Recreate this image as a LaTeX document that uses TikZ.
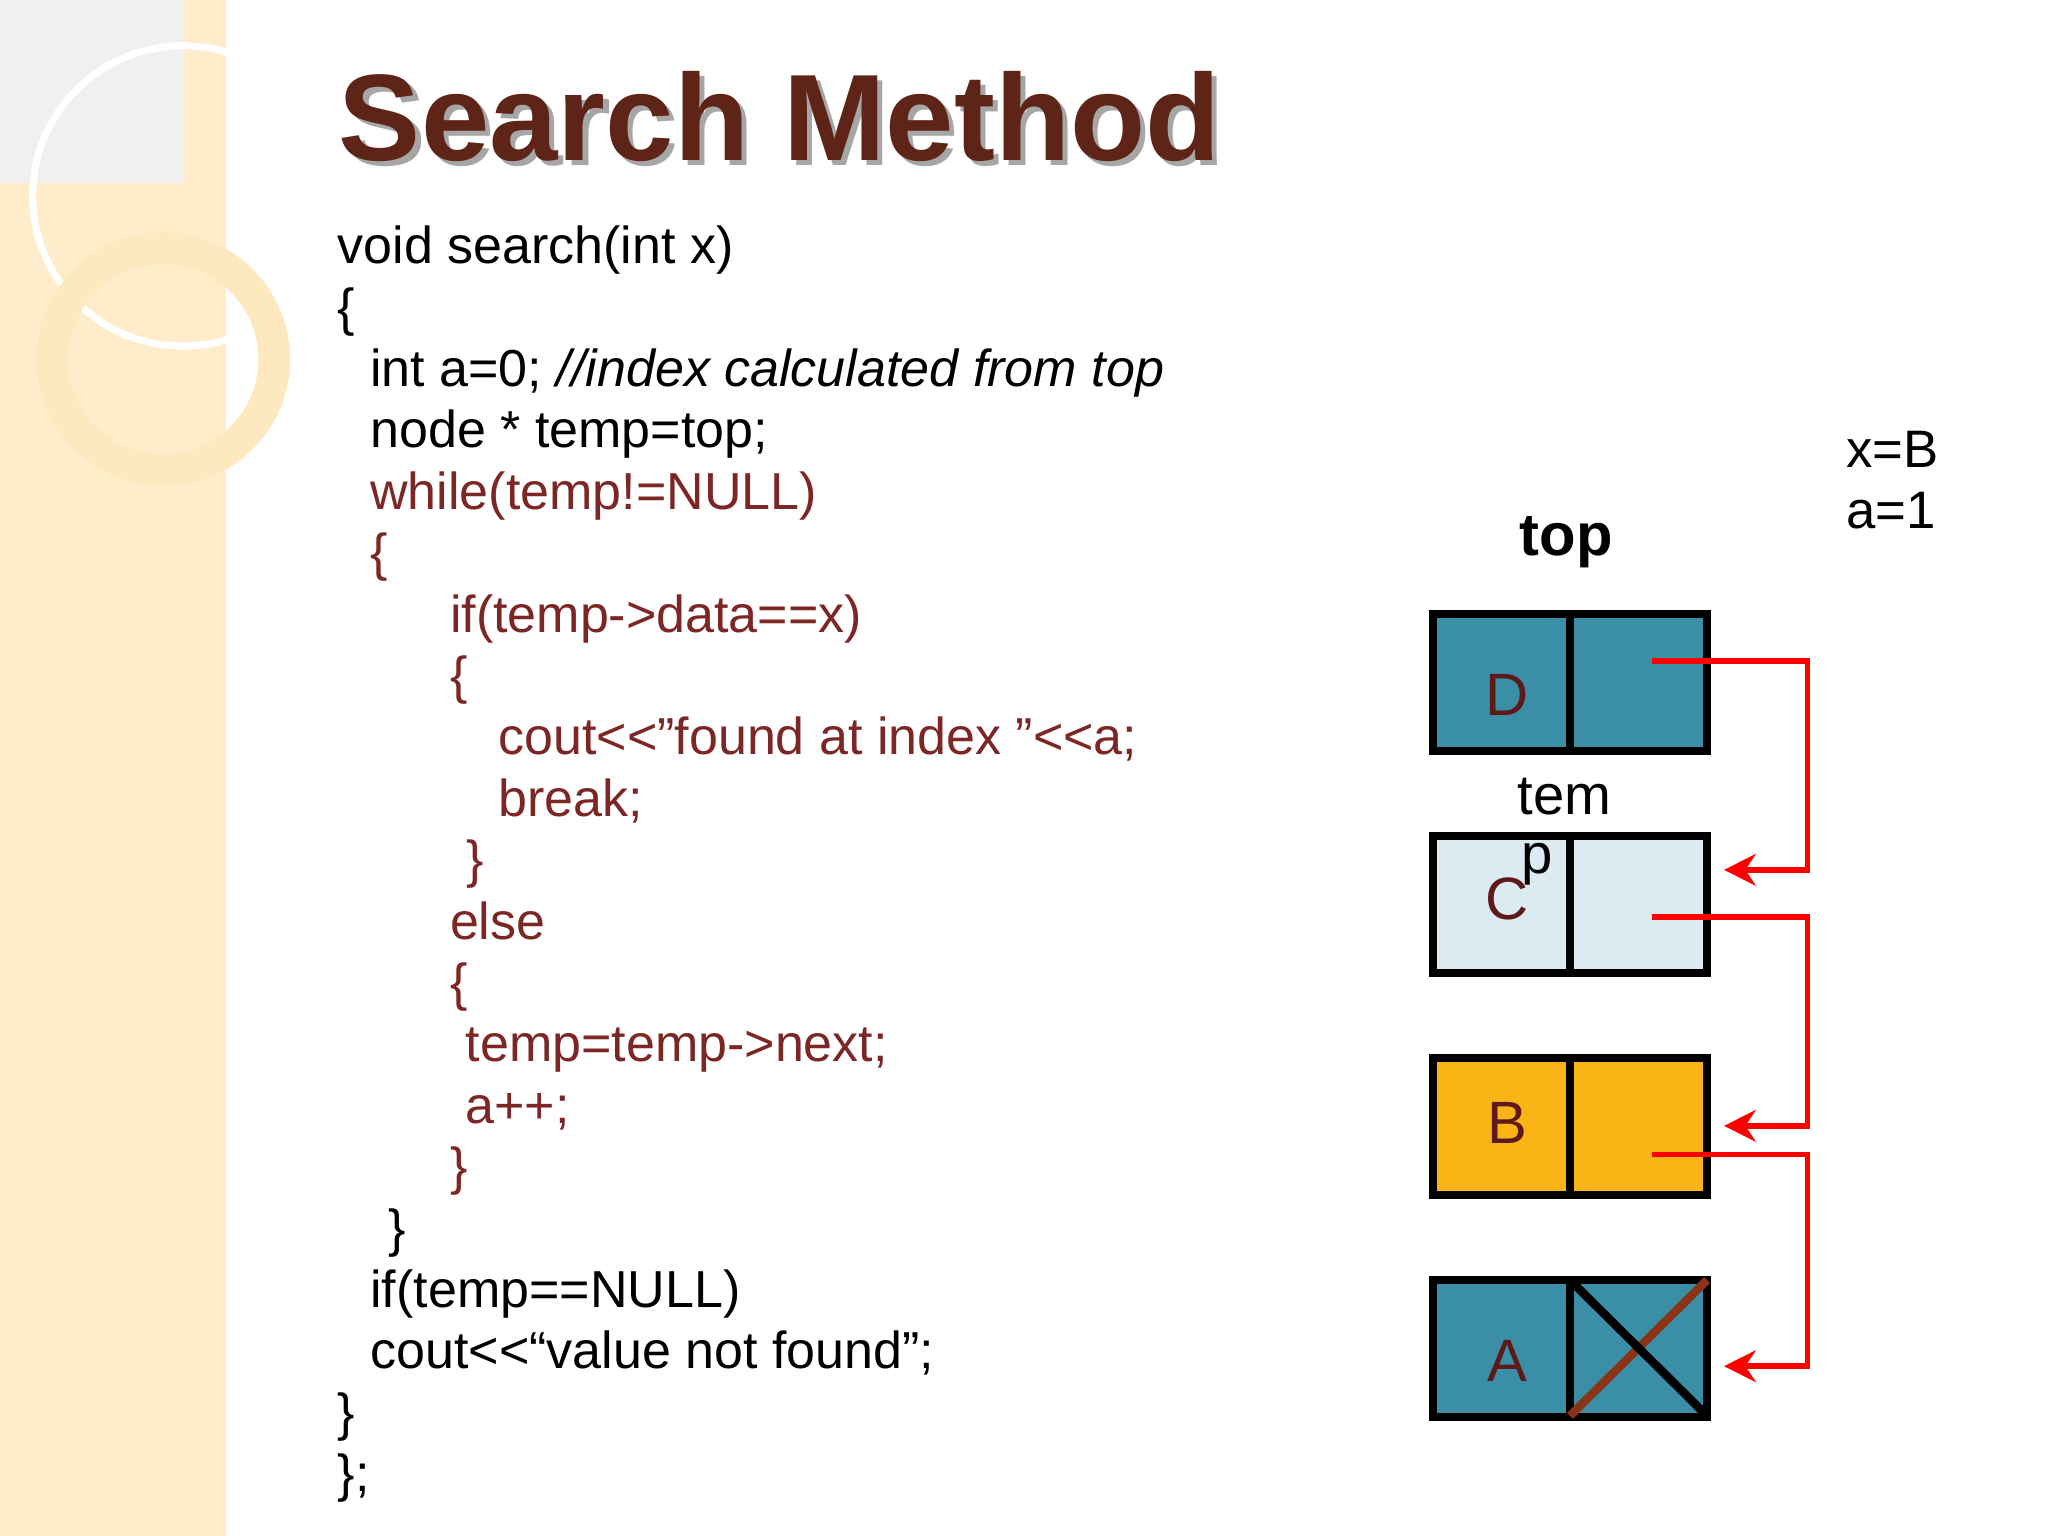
\documentclass[tikz,border=0pt]{standalone}
\usepackage{fontspec}
\usetikzlibrary{arrows.meta}
\setmainfont{Liberation Sans}
\begin{document}
\begin{tikzpicture}[x=0.013061cm,y=-0.013061cm,
 code/.style={anchor=base west,inner sep=0pt,font=\fontsize{14.8}{18}\selectfont},
 cb/.style={code,text=black},
 cr/.style={code,text=red!40!black!85},
 lab/.style={font=\fontsize{17}{18}\selectfont,text=red!30!black!90},
 arr/.style={red,line width=1.6pt,-{Stealth[length=9pt,width=9pt]}}]
\useasboundingbox (0,0) rectangle (1568,1176);
\fill[white] (0,0) rectangle (1568,1176);
\fill[yellow!25!orange!18!white] (0,0) rectangle (173,1176);
\fill[black!6] (0,0) rectangle (140,140);
\draw[white,line width=2pt] (140,150) circle (115);
\draw[white!75!yellow!60!orange!40!white,line width=9pt] (125,275) circle (85);
% title
\node[anchor=base west,inner sep=0pt,font=\bfseries\fontsize{35}{40}\selectfont,text=black!35] (tsh) at (263,127) {Search Method};
\node[anchor=base west,inner sep=0pt,font=\bfseries\fontsize{35}{40}\selectfont,text={rgb,255:red,94;green,36;blue,23}] (title) at (259,123) {Search Method};
% code
\node[cb] (l1) at (258,202) {void search(int x)};
\node[cb] (l2) at (258,249) {\{};
\node[cb] (l3) at (283,296) {int a=0; \textit{//index calculated from top}};
\node[cb] (l4) at (283,343) {node * temp=top;};
\node[cr] (l5) at (283,390) {while(temp!=NULL)};
\node[cr] (l6) at (283,437) {\{};
\node[cr] (l7) at (344,484) {if(temp->data==x)};
\node[cr] (l8) at (344,531) {\{};
\node[cr] (l9) at (381,578) {cout<{}<\symbol{34}found at index \symbol{34}<{}<a;};
\node[cr] (l10) at (381,625) {break;};
\node[cr] (l11) at (357,672) {\}};
\node[cr] (l12) at (344,719) {else};
\node[cr] (l13) at (344,766) {\{};
\node[cr] (l14) at (356,813) {temp=temp->next;};
\node[cr] (l15) at (356,860) {a++;};
\node[cr] (l16) at (344,907) {\}};
\node[cb] (l17) at (297,954) {\}};
\node[cb] (l18) at (283,1001) {if(temp==NULL)};
\node[cb] (l19) at (283,1048) {cout<{}<“value not found\symbol{34};};
\node[cb] (l20) at (258,1095) {\}};
\node[cb] (l21) at (258,1142) {\};};
% right side
\node[anchor=base west,inner sep=0pt,font=\fontsize{15}{18}\selectfont] (xb) at (1413,358) {x=B};
\node[anchor=base west,inner sep=0pt,font=\fontsize{15}{18}\selectfont] (a1) at (1413,405) {a=1};
\node[font=\bfseries\fontsize{17}{18}\selectfont] (top) at (1199,415) {top};
\node[font=\fontsize{16}{18}\selectfont] (tem) at (1198,610) {tem};
% boxes
\def\bx#1#2#3#4#5{%
 \filldraw[fill=#3,draw=black,line width=2.4pt] (1097,#2) rectangle (1307,#2+105);
 \draw[black,line width=2.4pt] (1202,#2) -- (1202,#2+105);
 \node[lab] (#1) at (1154,#2+#5) {#4};}
\bx{nD}{470}{{rgb,255:red,58;green,143;blue,166}}{D}{62}
\bx{nC}{640}{{rgb,255:red,220;green,235;blue,242}}{C}{48}
\bx{nB}{810}{{rgb,255:red,251;green,180;blue,22}}{B}{50}
\bx{nA}{980}{{rgb,255:red,58;green,143;blue,166}}{A}{62}
\node[font=\fontsize{16}{18}\selectfont] (p) at (1177,662) {p};
\draw[black!60!red!60!brown,line width=2.4pt] (1202,1084) -- (1307,980);
\draw[black,line width=2.4pt] (1202,980) -- (1307,1084);
% arrows
\coordinate (s1) at (1265,506); \coordinate (e1) at (1320,666);
\coordinate (s2) at (1265,702); \coordinate (e2) at (1320,862);
\coordinate (s3) at (1265,884); \coordinate (e3) at (1320,1046);
\draw[arr] (s1) -| (1384,666) -- (e1);
\draw[arr] (s2) -| (1384,862) -- (e2);
\draw[arr] (s3) -| (1384,1046) -- (e3);
\end{tikzpicture}
\end{document}
